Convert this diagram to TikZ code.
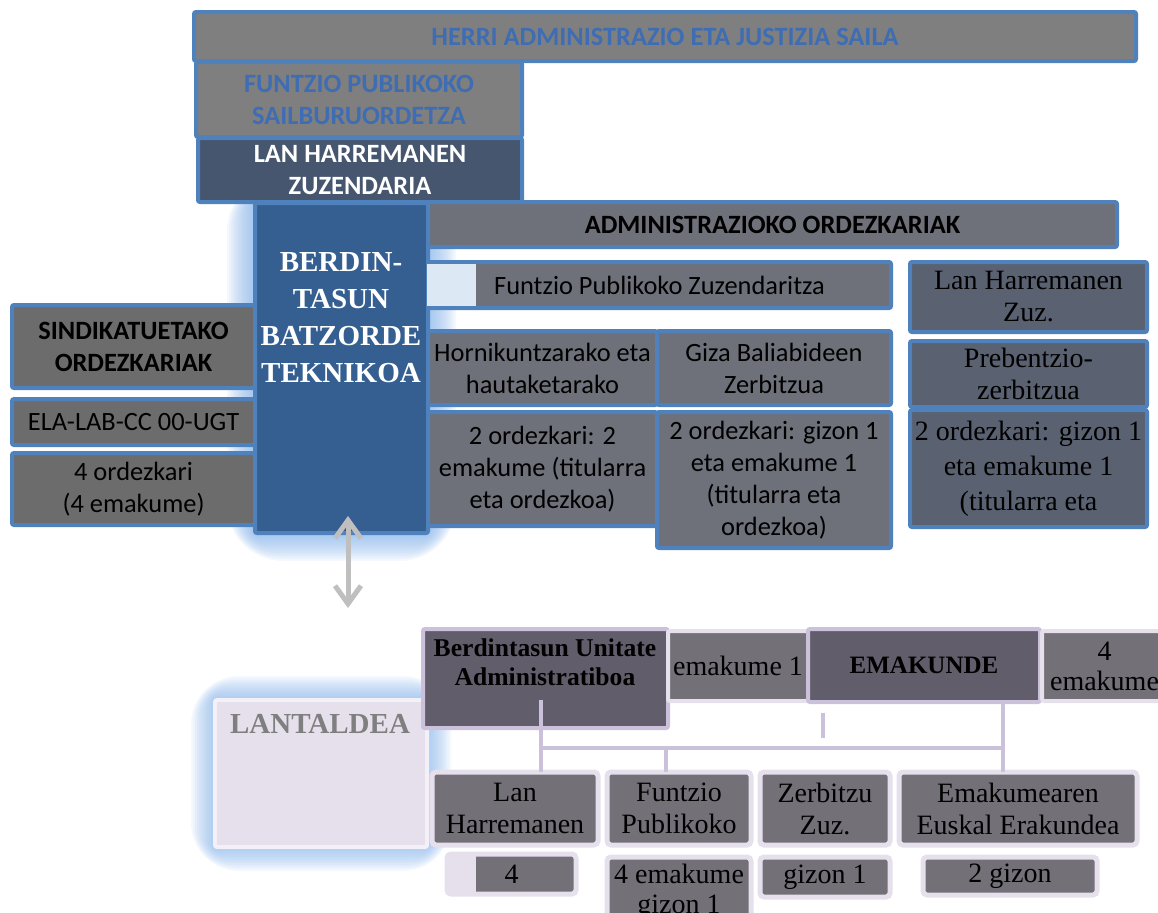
\documentclass[tikz,border=0pt]{standalone}
\usepackage{fontspec}
\setmainfont{Liberation Serif}
\setsansfont{Carlito}
\usetikzlibrary{arrows.meta}

\definecolor{bordblue}{HTML}{4F81BD}
\definecolor{headgray}{HTML}{7F7F7F}
\definecolor{headblue}{HTML}{3F6DB3}
\definecolor{slate}{HTML}{46566F}
\definecolor{batzblue}{HTML}{365F91}
\definecolor{leftgray}{HTML}{6C6C6C}
\definecolor{midgray}{HTML}{6E717A}
\definecolor{rightgray}{HTML}{5A6170}
\definecolor{glowblue}{HTML}{7FAEE8}
\definecolor{palebl}{HTML}{DDE8F5}
\definecolor{plum}{HTML}{625D6B}
\definecolor{lowgray}{HTML}{737078}
\definecolor{lavline}{HTML}{CCC1DA}
\definecolor{lavpale}{HTML}{E6E0EC}
\definecolor{lavfill}{HTML}{E5E0EC}
\definecolor{lavedge}{HTML}{F3F0F7}
\definecolor{arrgray}{HTML}{BFBFBF}

\tikzset{
  orgbox/.style={rectangle, anchor=north west, align=center, inner sep=0pt, outer sep=0pt, line width=2pt, rounded corners=1pt},
  wh/.style 2 args={minimum width=#1*0.5pt, minimum height=#2*0.5pt},
  bluebox/.style={orgbox, draw=bordblue},
  lavbox/.style={orgbox, draw=lavline},
  lowbox/.style={orgbox, draw=lavpale, fill=lowgray, line width=2.5pt, rounded corners=2pt},
  sansf/.style={font=\sffamily\fontsize{13.2}{16}\selectfont},
  sansb/.style={font=\sffamily\bfseries\fontsize{13.2}{16}\selectfont},
  serf/.style={font=\fontsize{14}{16}\selectfont},
  conn/.style={draw=lavline, line width=2pt},
  twoway/.style={draw=arrgray, line width=2.5pt, {Straight Barb[length=9pt,width=13pt]}-{Straight Barb[length=9pt,width=13pt]}},
}

\begin{document}
\begin{tikzpicture}[x=0.5pt, y=-0.5pt]
    \useasboundingbox (0,0) rectangle (1158,912);
    % glows
    \foreach \g in {2,4,...,28}
        \fill[glowblue, opacity=0.08, rounded corners=\g pt] (255-\g,203-\g) rectangle (428+\g,533+\g);
    \foreach \g in {2,4,...,24}
        \fill[glowblue, opacity=0.08, rounded corners=\g pt] (215-\g,700-\g) rectangle (427+\g,847+\g);
    % head
    \node[bluebox, fill=headgray, text=headblue, sansb, wh={942}{49}] (herri) at (194,12) {HERRI ADMINISTRAZIO ETA JUSTIZIA SAILA};
    \node[bluebox, fill=headgray, text=headblue, sansb, wh={326}{75}] (sailb) at (196,62) {FUNTZIO PUBLIKOKO\\SAILBURUORDETZA};
    \node[bluebox, fill=slate, text=white, sansb, wh={324}{64}] (lhz) at (198,138) {LAN HARREMANEN\\ZUZENDARIA};
    % sindikatuak
    \node[bluebox, fill=leftgray, sansb, wh={243}{83}] (sind) at (12,305) {SINDIKATUETAKO\\ORDEZKARIAK};
    \node[bluebox, fill=leftgray, sansf, wh={243}{46}] (ela) at (12,399) {ELA-LAB-CC 00-UGT};
    \node[bluebox, fill=leftgray, sansf, wh={243}{72}] (ordz4) at (12,453) {4 ordezkari\\(4 emakume)};
    % batzordea
    \node[bluebox, fill=batzblue, wh={173}{330}] (batz) at (255,203) {};
    \node[text=white, align=center, font=\bfseries\fontsize{14.5}{18.5}\selectfont] (batztxt) at (341,318) {BERDIN-\\TASUN\\BATZORDE\\TEKNIKOA};
    % administrazioa
    \node[bluebox, fill=midgray, sansb, wh={689}{45}] (admin) at (428,202) {ADMINISTRAZIOKO ORDEZKARIAK};
    \node[bluebox, fill=midgray, sansf, wh={463}{46}] (fpz) at (428,262) {Funtzio Publikoko Zuzendaritza};
    \fill[palebl] (427,264) rectangle (476,306);
    \node[bluebox, fill=midgray, sansf, wh={229}{74}] (horn) at (428,331) {Hornikuntzarako eta\\hautaketarako};
    \node[bluebox, fill=midgray, sansf, wh={234}{74}] (giza) at (657,331) {Giza Baliabideen\\Zerbitzua};
    \node[bluebox, fill=midgray, sansf, wh={229}{114}] (ord2a) at (428,412) {2 ordezkari: 2\\emakume (titularra\\eta ordezkoa)};
    \node[bluebox, fill=midgray, sansf, wh={234}{136}] (ord2b) at (657,412) {2 ordezkari: gizon 1\\eta emakume 1\\(titularra eta\\ordezkoa)};
    \node[bluebox, fill=rightgray, serf, wh={237}{70}] (lhzz) at (910,262) {Lan Harremanen\\Zuz.};
    \node[bluebox, fill=rightgray, serf, wh={237}{66}] (preb) at (910,341) {Prebentzio-\\zerbitzua};
    \node[bluebox, fill=rightgray, font=\fontsize{14}{17.5}\selectfont, wh={237}{117}] (ord2c) at (910,410) {2 ordezkari: gizon 1\\eta emakume 1\\(titularra eta};
    % gezia
    \coordinate (arrtop) at (348,516);
    \coordinate (arrbot) at (348,608);
    \draw[twoway] (arrtop) -- (arrbot);
    % lantaldea
    \node[orgbox, fill=lavfill, draw=lavedge, wh={212}{147}] (lant) at (215,700) {};
    \node[text=headgray, font=\bfseries\fontsize{14.5}{17}\selectfont] (lanttxt) at (320,724) {LANTALDEA};
    \node[lavbox, fill=plum, wh={245}{99}] (bua) at (423,629) {};
    \node[align=center, font=\bfseries\fontsize{12.8}{14.5}\selectfont] (buatxt) at (545,662) {Berdintasun Unitate\\Administratiboa};
    \node[orgbox, draw=lavpale, fill=lowgray, serf, wh={140}{70}] (emak1) at (668,631) {emakume 1};
    \node[lavbox, fill=plum, font=\bfseries\fontsize{12.5}{15}\selectfont, wh={232}{73}] (emk) at (808,629) {EMAKUNDE};
    \node[orgbox, draw=lavpale, fill=lowgray, font=\fontsize{14}{15}\selectfont, wh={125}{70}] (emak4) at (1042,631) {4\\emakume};
    % unitateak
    \node[lowbox, serf, wh={166}{73}] (lh) at (432,772) {Lan\\Harremanen};
    \node[lowbox, serf, wh={144}{73}] (fp) at (607,772) {Funtzio\\Publikoko};
    \node[lowbox, serf, wh={130}{73}] (zz) at (760,772) {Zerbitzu\\Zuz.};
    \node[lowbox, serf, wh={238}{73}] (emb) at (899,772) {Emakumearen\\Euskal Erakundea};
    \node[lowbox, serf, wh={129}{40}] (n4) at (447,854) {4};
    \fill[lavfill] (446,856) rectangle (476,892);
    \node[lowbox, font=\fontsize{14}{15}\selectfont, wh={144}{70}] (n4e) at (607,857) {4 emakume\\gizon 1};
    \node[lowbox, serf, wh={130}{40}] (g1) at (760,857) {gizon 1};
    \node[lowbox, serf, wh={174}{38}] (g2) at (923,857) {2 gizon};
    % lotura
    \coordinate (stem) at (541,700);
    \coordinate (busl) at (541,748);
    \coordinate (busm) at (666,748);
    \coordinate (busr) at (1003,748);
    \coordinate (tick) at (823,713);
    \draw[conn] (stem) -- (busl |- lh.north);
    \draw[conn] (busl) -- (busr);
    \draw[conn] (busm) -- (busm |- fp.north);
    \draw[conn] (busr |- emk.south) -- (busr |- emb.north);
    \draw[conn] (tick) -- ++(0,25);
\end{tikzpicture}
\end{document}
